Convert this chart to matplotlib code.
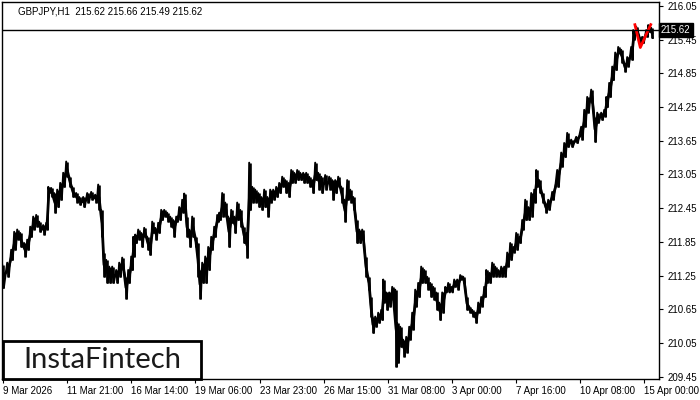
import numpy as np
import matplotlib
matplotlib.use('Agg')
import matplotlib.pyplot as plt
from matplotlib.patches import Rectangle

plt.rcParams['font.family'] = ['Liberation Sans', 'DejaVu Sans']

bar_pos = [0, 5, 9, 12, 15, 18, 22, 25, 28, 31, 34, 37, 41, 44, 46, 49, 52, 55, 58, 61,
           64, 67, 70, 74, 77, 81, 85, 89, 93, 96, 99, 101, 104, 107, 110, 114, 117, 120, 123, 126,
           129, 131, 133, 136, 139, 142, 145, 147, 150, 153, 156, 159, 162, 165, 168, 171, 174, 177, 180, 182,
           184, 187, 190, 193, 195, 197, 200, 203, 206, 209, 212, 215, 217, 220, 223, 226, 229, 232, 235, 238,
           241, 244, 247, 250, 253, 256, 259, 262, 265, 268, 271, 274, 277, 280, 283, 286, 289, 292, 295, 298,
           301, 304, 307, 310, 313, 316, 319, 323, 327, 330, 333, 336, 339, 342, 345, 348, 351, 354, 357, 360,
           363, 366, 368, 370, 373, 376, 379, 381, 384, 387, 390, 393, 395, 398, 401, 404, 407, 410, 413, 416,
           419, 422, 425, 428, 431, 434, 437, 440, 443, 446, 449, 452, 455, 458, 461, 464, 467, 470, 473, 476,
           479, 482, 484, 487, 490, 493, 496, 499, 502, 505, 508, 511, 514, 517, 520, 523, 526, 529, 532, 534,
           537, 540, 543, 546, 550, 555, 559, 562, 565, 569, 574, 579, 582, 585, 589, 592, 595, 599, 602, 604,
           607, 610, 613, 616, 619, 622, 625, 629, 631, 634, 637, 640, 644, 646, 649]

bar_high = [211.44, 211.48, 211.71, 212.03, 212.07, 212.01, 211.83, 211.89, 212.12, 212.30, 212.33, 212.21, 212.15, 212.19, 212.83, 212.81, 212.72, 212.78, 212.90, 213.08,
            213.28, 213.01, 212.83, 212.72, 212.65, 212.65, 212.72, 212.74, 212.69, 212.87, 212.42, 211.66, 211.53, 211.41, 211.41, 211.35, 211.48, 211.57, 211.23, 211.35,
            211.59, 211.94, 211.98, 212.07, 212.01, 212.10, 211.94, 211.83, 212.21, 212.10, 212.19, 212.42, 212.42, 212.37, 212.30, 212.24, 212.30, 212.47, 212.60, 212.71,
            212.30, 212.07, 212.30, 211.94, 211.83, 211.35, 211.48, 211.59, 211.76, 211.94, 212.12, 212.33, 212.37, 212.72, 212.55, 212.30, 212.42, 212.30, 212.55, 212.42,
            212.12, 212.01, 213.26, 212.83, 212.78, 212.72, 212.65, 212.78, 212.65, 212.78, 212.78, 212.83, 212.90, 213.01, 212.95, 212.90, 213.13, 213.08, 213.13, 213.08,
            213.08, 213.08, 213.01, 212.95, 213.26, 213.08, 213.01, 213.04, 213.01, 212.95, 212.95, 213.01, 212.83, 212.60, 212.95, 212.78, 212.65, 212.24, 212.07, 212.07,
            211.59, 211.23, 210.87, 210.52, 210.52, 210.59, 210.64, 211.18, 210.95, 210.95, 211.05, 211.00, 210.41, 210.34, 210.11, 210.16, 210.34, 210.59, 211.00, 211.12,
            211.41, 211.35, 211.23, 211.12, 211.05, 210.95, 210.77, 210.95, 211.05, 211.12, 211.05, 211.18, 211.18, 211.26, 211.23, 210.87, 210.70, 210.64, 210.59, 210.77,
            210.87, 211.05, 211.35, 211.30, 211.48, 211.41, 211.35, 211.41, 211.41, 211.66, 211.83, 211.76, 212.01, 211.94, 212.24, 212.60, 212.47, 212.72, 212.78, 213.13,
            212.95, 212.72, 212.55, 212.60, 212.74, 213.13, 213.44, 213.61, 213.79, 213.67, 213.72, 213.90, 214.20, 214.43, 214.56, 214.08, 214.15, 214.15, 214.20, 214.43,
            214.68, 214.97, 215.22, 215.32, 215.27, 215.04, 215.14, 215.32, 215.62, 215.68, 215.50, 215.50, 215.62, 215.71, 215.66]

bar_low = [211.03, 211.23, 211.53, 211.71, 211.89, 211.76, 211.59, 211.71, 211.94, 212.07, 212.12, 212.03, 211.98, 212.07, 212.72, 212.65, 212.37, 212.47, 212.60, 212.83,
           213.01, 212.83, 212.65, 212.55, 212.51, 212.47, 212.55, 212.60, 212.55, 212.42, 211.94, 211.23, 211.12, 211.12, 211.12, 211.12, 211.23, 211.35, 210.84, 211.12,
           211.35, 211.59, 211.83, 211.89, 211.76, 211.94, 211.71, 211.62, 212.01, 211.89, 212.01, 212.24, 212.30, 212.21, 212.12, 211.94, 212.21, 212.24, 212.37, 212.47,
           211.94, 211.76, 211.94, 211.76, 211.23, 210.84, 211.12, 211.12, 211.35, 211.71, 211.94, 212.21, 212.24, 212.30, 212.30, 211.76, 212.19, 212.01, 212.24, 212.12,
           211.83, 211.57, 212.42, 212.55, 212.55, 212.47, 212.42, 212.47, 212.30, 212.55, 212.60, 212.65, 212.72, 212.83, 212.72, 212.65, 212.90, 212.90, 212.95, 212.95,
           212.90, 212.90, 212.83, 212.72, 212.95, 212.78, 212.72, 212.78, 212.78, 212.60, 212.72, 212.83, 212.55, 212.21, 212.60, 212.55, 212.42, 211.83, 211.83, 211.89,
           211.23, 211.00, 210.52, 210.23, 210.34, 210.41, 210.46, 210.77, 210.64, 210.70, 210.82, 209.63, 209.70, 209.98, 209.81, 209.88, 210.11, 210.29, 210.70, 210.87,
           211.12, 211.12, 211.00, 210.87, 210.82, 210.64, 210.46, 210.59, 210.95, 210.95, 210.95, 211.05, 211.00, 211.18, 211.12, 210.64, 210.59, 210.52, 210.41, 210.59,
           210.70, 210.87, 211.12, 211.12, 211.23, 211.23, 211.23, 211.23, 211.23, 211.41, 211.53, 211.66, 211.71, 211.83, 212.07, 212.24, 212.24, 212.30, 212.55, 212.83,
           212.72, 212.55, 212.37, 212.42, 212.60, 212.83, 213.19, 213.36, 213.54, 213.54, 213.61, 213.67, 213.90, 214.15, 214.33, 213.63, 213.97, 214.02, 214.08, 214.25,
           214.43, 214.73, 214.91, 215.22, 215.04, 214.88, 214.97, 215.09, 215.45, 215.57, 215.39, 215.39, 215.50, 215.59, 215.48]

# pattern marker (red V on the last bars)
pattern_pos = [631.6, 637.3, 648.3]
pattern_price = [215.74, 215.31, 215.74]

last_price = 215.62
header = "GBPJPY,H1  215.62 215.66 215.49 215.62"

y_ticks = [216.05, 215.45, 214.85, 214.25, 213.65, 213.05, 212.45, 211.85, 211.25, 210.65, 210.05, 209.45]
x_tick_pos = [0, 64, 128, 192, 257, 321, 385, 449, 513, 577, 641]
x_tick_labels = ['9 Mar 2026', '11 Mar 21:00', '16 Mar 14:00', '19 Mar 06:00', '23 Mar 23:00',
                 '26 Mar 15:00', '31 Mar 08:00', '3 Apr 00:00', '7 Apr 16:00', '10 Apr 08:00', '15 Apr 00:00']

fig = plt.figure(figsize=(7, 4), dpi=100)
ax = fig.add_axes([2 / 700, 21 / 400, 657 / 700, 377 / 400])

pos = np.array(bar_pos, dtype=float)
hi = np.array(bar_high)
lo = np.array(bar_low)

# jagged bar look: zigzag through highs and lows, plus the bar ranges
zx = np.column_stack([pos - 0.8, pos + 0.8]).ravel()
zy = np.column_stack([hi, lo]).ravel()
ax.plot(zx, zy, color='black', linewidth=1.4)
ax.vlines(pos, lo, hi, color='black', linewidth=1.9)
ax.plot(pos, (hi + lo) / 2, color='black', linewidth=2.0)

ax.plot(pattern_pos, pattern_price, color='red', linewidth=2, solid_capstyle='butt')

ax.axhline(last_price, color='black', linewidth=1)

ax.set_xlim(-1, 656)
ax.set_ylim(209.41, 216.12)

ax.yaxis.tick_right()
ax.set_yticks(y_ticks)
ax.set_yticklabels([f'{v:.2f}' for v in y_ticks])
ax.set_xticks(x_tick_pos)
ax.set_xticklabels(x_tick_labels, ha='left')
ax.tick_params(axis='both', labelsize=7, length=3, width=0.8, direction='out', pad=2)
ax.tick_params(axis='y', pad=3)
for sp in ax.spines.values():
    sp.set_linewidth(1)

# current price box on the right axis
ax.text(1.003, last_price, f'{last_price:.2f}', transform=ax.get_yaxis_transform(),
        fontsize=7, color='white', va='center', ha='left',
        bbox=dict(boxstyle='square,pad=0.2', fc='black', ec='black'))

fig.text(18 / 700, 1 - 11 / 400, header, fontsize=7, va='center', ha='left')

# watermark
fig.patches.append(Rectangle((3 / 700, 21 / 400), 198 / 700, 38 / 400, transform=fig.transFigure,
                             fill=True, facecolor='white', edgecolor='black', linewidth=2, zorder=5))
fig.text(102 / 700, 40 / 400, 'InstaFintech', fontsize=21, color='#1a1a1a', family='Lato',
         ha='center', va='center', zorder=6)

plt.savefig('out.png', dpi=100)
